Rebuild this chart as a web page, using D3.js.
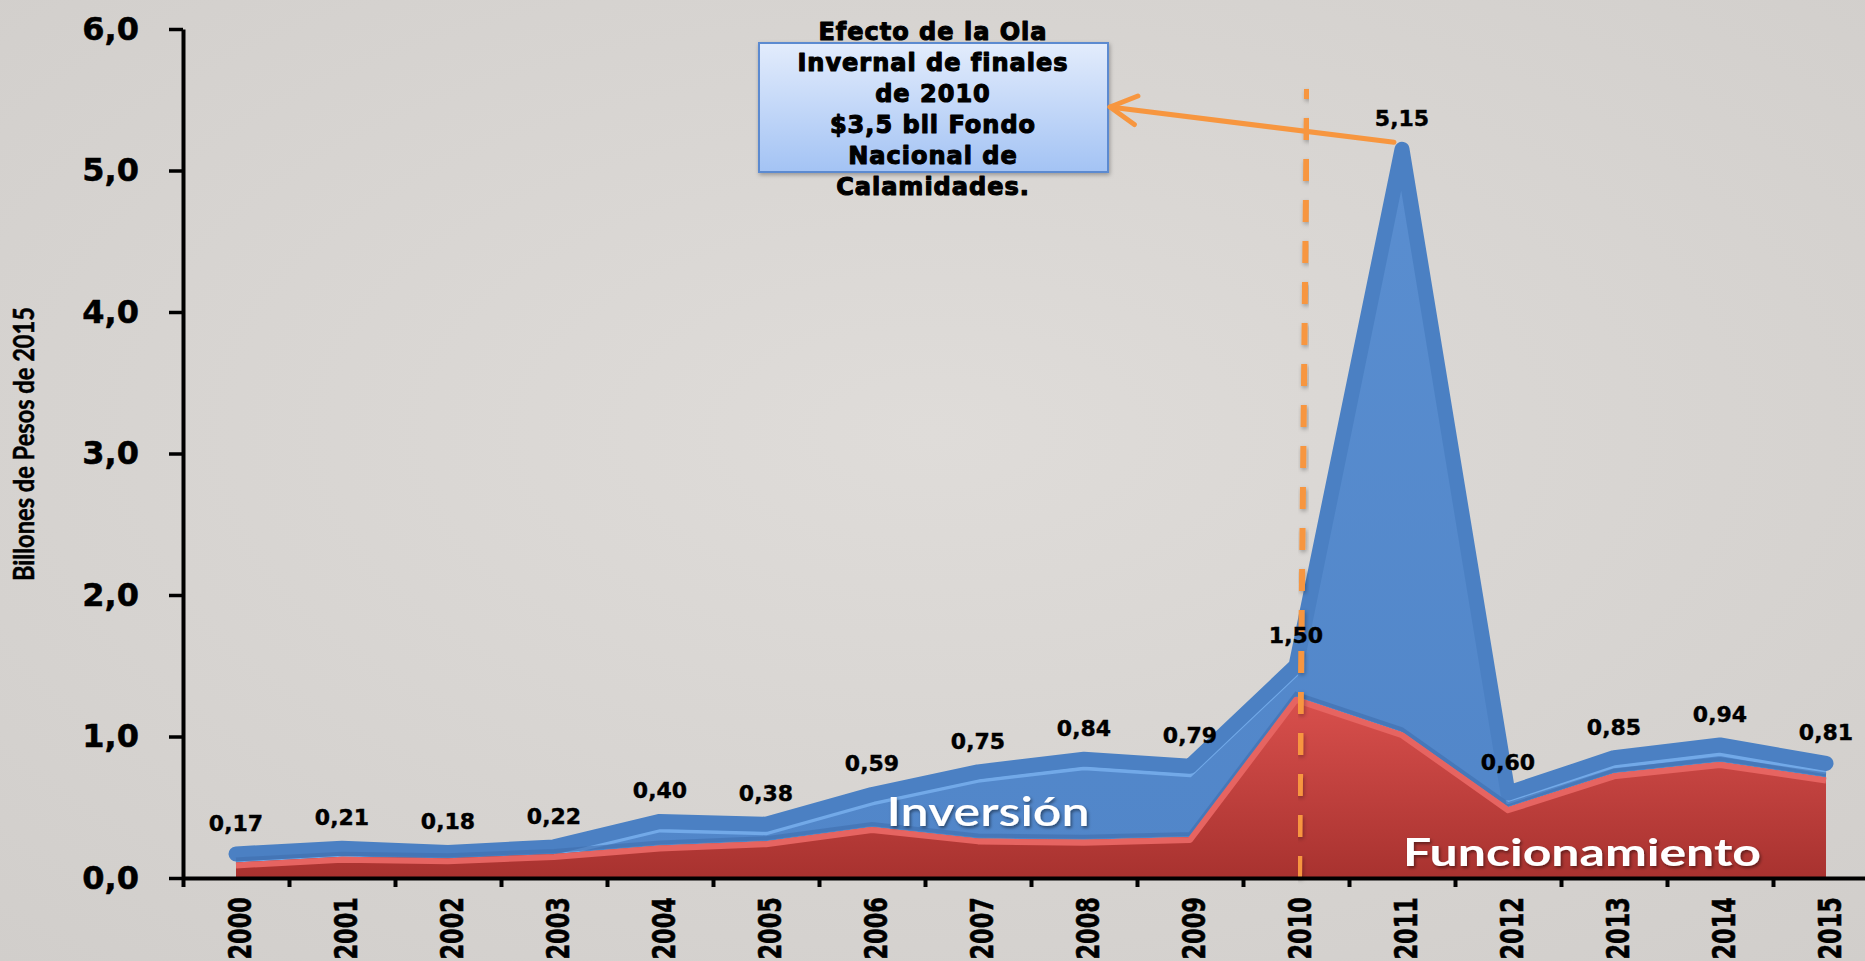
<!DOCTYPE html>
<html>
<head>
<meta charset="utf-8">
<script src="https://cdn.jsdelivr.net/npm/d3@7"></script>
<style>
  body { margin: 0; overflow: hidden; background: #d9d6d3; }
</style>
</head>
<body>
<svg width="1865" height="961"></svg>
<script>
// data (billones de pesos de 2015)
var years = ["2000", "2001", "2002", "2003", "2004", "2005", "2006", "2007",
             "2008", "2009", "2010", "2011", "2012", "2013", "2014", "2015"];
var funcionamiento = [0.11, 0.15, 0.14, 0.17, 0.23, 0.26, 0.36, 0.28,
                      0.27, 0.29, 1.28, 1.03, 0.50, 0.74, 0.82, 0.71];
var inversion = [0.06, 0.06, 0.04, 0.05, 0.17, 0.12, 0.23, 0.47,
                 0.57, 0.50, 0.22, 4.12, 0.10, 0.11, 0.12, 0.10];
var totals = [0.17, 0.21, 0.18, 0.22, 0.40, 0.38, 0.59, 0.75,
              0.84, 0.79, 1.50, 5.15, 0.60, 0.85, 0.94, 0.81];
var yTicks = [0, 1, 2, 3, 4, 5, 6];
var notaLines = ["Efecto de la Ola", "Invernal de finales", "de 2010",
                 "$3,5 bll Fondo", "Nacional de", "Calamidades."];
var eventYear = "2010";
var peakYear = "2011";

var svg = d3.select("svg"),
    width = +svg.attr("width"),
    height = +svg.attr("height");

var es = d3.formatLocale({ decimal: ",", thousands: ".", grouping: [3], currency: ["$", ""] });
var fmt1 = es.format(".1f"),
    fmt2 = es.format(".2f");

var table = years.map(function (d, i) {
    return { year: d, funcionamiento: funcionamiento[i], inversion: inversion[i], total: totals[i] };
});

var x = d3.scaleBand().domain(years).range([183, 1879]).padding(0),
    xEdge = d3.scaleLinear().domain([0, years.length]).range([183, 1879]),
    y = d3.scaleLinear().domain([0, 6]).range([878, 29]);

function cx(year) { return x(year) + x.bandwidth() / 2; }

var defs = svg.append("defs");

var bg = defs.append("radialGradient").attr("id", "bg").attr("cx", "50%").attr("cy", "45%").attr("r", "80%");
bg.append("stop").attr("offset", "0%").attr("stop-color", "#dfdcd9");
bg.append("stop").attr("offset", "100%").attr("stop-color", "#d0cdca");

var red = defs.append("linearGradient").attr("id", "red").attr("x1", 0).attr("y1", 0).attr("x2", 0).attr("y2", 1);
red.append("stop").attr("offset", "0%").attr("stop-color", "#d9504d");
red.append("stop").attr("offset", "100%").attr("stop-color", "#a8322f");

var blue = defs.append("linearGradient").attr("id", "blue").attr("x1", 0).attr("y1", 0).attr("x2", 0).attr("y2", 1);
blue.append("stop").attr("offset", "0%").attr("stop-color", "#5a8ed0");
blue.append("stop").attr("offset", "100%").attr("stop-color", "#5186c9");

var box = defs.append("linearGradient").attr("id", "box").attr("x1", 0).attr("y1", 0).attr("x2", 0).attr("y2", 1);
box.append("stop").attr("offset", "0%").attr("stop-color", "#e3ecfc");
box.append("stop").attr("offset", "100%").attr("stop-color", "#a3c3f4");

var shadow = defs.append("filter").attr("id", "shadow").attr("x", "-10%").attr("y", "-10%").attr("width", "130%").attr("height", "140%");
shadow.append("feDropShadow").attr("dx", 1.5).attr("dy", 2).attr("stdDeviation", 1.5)
    .attr("flood-color", "#000").attr("flood-opacity", 0.45);

var soft = defs.append("filter").attr("id", "soft").attr("x", "-10%").attr("y", "-10%").attr("width", "130%").attr("height", "130%");
soft.append("feDropShadow").attr("dx", 1).attr("dy", 2).attr("stdDeviation", 2)
    .attr("flood-color", "#000").attr("flood-opacity", 0.3);

svg.append("rect").attr("width", width).attr("height", height).attr("fill", "url(#bg)");

// stacked areas
var series = d3.stack().keys(["funcionamiento", "inversion"])(table);

var area = d3.area()
    .x(function (d) { return cx(d.data.year); })
    .y0(function (d) { return y(d[0]); })
    .y1(function (d) { return y(d[1]); });

var topLine = d3.line()
    .x(function (d) { return cx(d.data.year); })
    .y(function (d) { return y(d[1]); });

var g = svg.append("g");

g.append("path").datum(series[1])
    .attr("d", area)
    .attr("fill", "url(#blue)");

// bevel look on the blue top edge
g.append("path").datum(series[1])
    .attr("d", topLine)
    .attr("transform", "translate(0,9)")
    .attr("fill", "none")
    .attr("stroke", "#72a9e8")
    .attr("stroke-width", 4)
    .attr("stroke-linejoin", "round");

g.append("path").datum(series[1])
    .attr("d", topLine)
    .attr("fill", "none")
    .attr("stroke", "#4b80c3")
    .attr("stroke-width", 15)
    .attr("stroke-linejoin", "round")
    .attr("stroke-linecap", "round");

// shadow of blue onto red
g.append("path").datum(series[0])
    .attr("d", topLine)
    .attr("transform", "translate(0,-3)")
    .attr("fill", "none")
    .attr("stroke", "#3f6eae")
    .attr("stroke-width", 4)
    .attr("stroke-opacity", 0.6);

g.append("path").datum(series[0])
    .attr("d", area)
    .attr("fill", "url(#red)");

g.append("path").datum(series[0])
    .attr("d", topLine)
    .attr("transform", "translate(0,3)")
    .attr("fill", "none")
    .attr("stroke", "#e66461")
    .attr("stroke-width", 6)
    .attr("stroke-linejoin", "round");

// white series names
svg.append("text")
    .attr("x", 988).attr("y", 826)
    .attr("text-anchor", "middle")
    .attr("textLength", 203).attr("lengthAdjust", "spacingAndGlyphs")
    .style("font-family", "Lato").style("font-size", "40px").style("font-weight", 600)
    .attr("fill", "#fff").attr("filter", "url(#shadow)")
    .text("Inversión");

svg.append("text")
    .attr("x", 1582).attr("y", 866)
    .attr("text-anchor", "middle")
    .attr("textLength", 358).attr("lengthAdjust", "spacingAndGlyphs")
    .style("font-family", "Lato").style("font-size", "38px").style("font-weight", 700)
    .attr("fill", "#fff").attr("filter", "url(#shadow)")
    .text("Funcionamiento");

// dashed marker at 2010
svg.append("line")
    .attr("x1", cx(eventYear) + 3).attr("y1", y(0))
    .attr("x2", cx(eventYear) + 11).attr("y2", 89)
    .attr("stroke", "#f7963f")
    .attr("stroke-width", 6)
    .attr("stroke-dasharray", "22,19")
    .attr("filter", "url(#soft)");

// axes
var yAxis = svg.append("g")
    .attr("transform", "translate(183,0)")
    .call(d3.axisLeft(y).tickValues(yTicks).tickFormat(fmt1).tickSize(14).tickSizeOuter(0).tickPadding(30));

yAxis.select(".domain").attr("stroke", "#000").attr("stroke-width", 4);
yAxis.selectAll(".tick line").attr("stroke", "#000").attr("stroke-width", 3.5);
yAxis.selectAll(".tick text")
    .style("font-family", "DejaVu Sans").style("font-weight", "bold").style("font-size", "32px")
    .attr("fill", "#000").attr("stroke", "#000").attr("stroke-width", 0.5);

var xAxis = svg.append("g")
    .attr("transform", "translate(0," + y(0) + ")")
    .call(d3.axisBottom(xEdge).tickValues(d3.range(years.length + 1)).tickFormat("").tickSize(9).tickSizeOuter(0));

xAxis.select(".domain").attr("stroke", "#000").attr("stroke-width", 4);
xAxis.selectAll(".tick line").attr("stroke", "#000").attr("stroke-width", 4);

// year labels: narrow along the reading direction, tall across it
svg.append("g").selectAll("text")
    .data(years)
    .enter().append("text")
    .attr("transform", function (d) { return "translate(" + (cx(d) + 3) + ",897) rotate(-90) scale(1,1.45)"; })
    .attr("text-anchor", "end")
    .attr("dy", "0.36em")
    .style("font-family", "DejaVu Sans").style("font-weight", "bold").style("font-size", "22.5px")
    .attr("fill", "#000").attr("stroke", "#000").attr("stroke-width", 0.4)
    .text(function (d) { return d; });

svg.append("text")
    .attr("transform", "translate(24,444) rotate(-90)")
    .attr("text-anchor", "middle")
    .attr("dy", "0.36em")
    .attr("textLength", 274).attr("lengthAdjust", "spacingAndGlyphs")
    .style("font-family", "Lato").style("font-weight", "bold").style("font-size", "29px")
    .attr("fill", "#000").attr("stroke", "#000").attr("stroke-width", 0.5)
    .text("Billones de Pesos de 2015");

// total value labels
svg.append("g").selectAll("text")
    .data(table)
    .enter().append("text")
    .attr("x", function (d) { return cx(d.year); })
    .attr("y", function (d) { return y(d.total) - 31; })
    .attr("dy", "0.36em")
    .attr("text-anchor", "middle")
    .style("font-family", "DejaVu Sans").style("font-weight", "bold").style("font-size", "22px")
    .attr("fill", "#000").attr("stroke", "#000").attr("stroke-width", 0.4)
    .text(function (d) { return fmt2(d.total); });

// annotation box and arrow
svg.append("rect")
    .attr("x", 759).attr("y", 43).attr("width", 349).attr("height", 129)
    .attr("fill", "url(#box)")
    .attr("stroke", "#5b8ad0").attr("stroke-width", 2)
    .attr("filter", "url(#soft)");

svg.append("g").selectAll("text")
    .data(notaLines)
    .enter().append("text")
    .attr("x", 933)
    .attr("y", function (d, i) { return 31 + i * 31; })
    .attr("dy", "0.36em")
    .attr("text-anchor", "middle")
    .style("font-family", "DejaVu Sans").style("font-weight", "bold").style("font-size", "24px")
    .style("letter-spacing", "1px")
    .attr("fill", "#000").attr("stroke", "#000").attr("stroke-width", 1.1)
    .attr("stroke-linejoin", "round")
    .text(function (d) { return d; });

var ax0 = cx(peakYear) - 8, ay0 = y(totals[years.indexOf(peakYear)]) - 7,
    ax1 = 1110, ay1 = 107;
var ang = Math.atan2(ay0 - ay1, ax0 - ax1), arm = 30, spread = 0.5;

var arrow = svg.append("g")
    .attr("fill", "none")
    .attr("stroke", "#f7963f")
    .attr("stroke-width", 5)
    .attr("stroke-linecap", "round")
    .attr("stroke-linejoin", "round");

arrow.append("line").attr("x1", ax0).attr("y1", ay0).attr("x2", ax1).attr("y2", ay1);
arrow.append("path")
    .attr("d", "M" + (ax1 + arm * Math.cos(ang - spread)) + "," + (ay1 + arm * Math.sin(ang - spread)) +
        "L" + ax1 + "," + ay1 +
        "L" + (ax1 + arm * Math.cos(ang + spread)) + "," + (ay1 + arm * Math.sin(ang + spread)));
</script>
</body>
</html>
